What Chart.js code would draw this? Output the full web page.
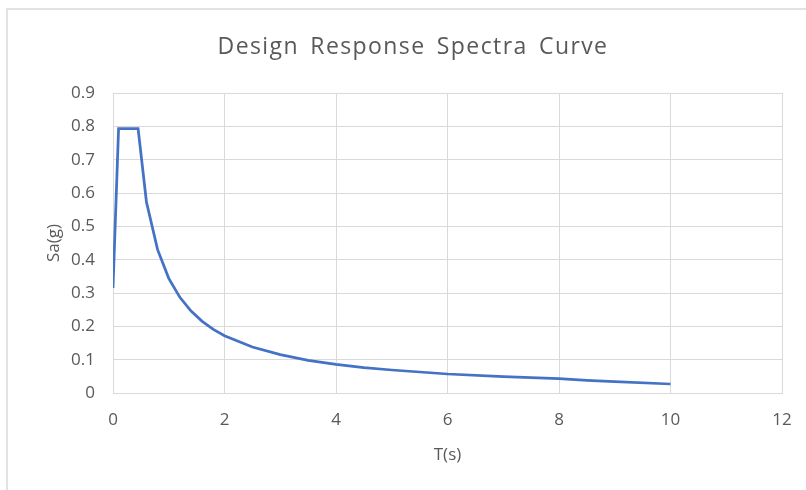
<!DOCTYPE html>
<html>
<head>
<meta charset="utf-8">
<script src="https://cdn.jsdelivr.net/npm/chart.js@4.4.0/dist/chart.umd.min.js"></script>
<style>
  html, body { margin: 0; padding: 0; background: #fff; }
  #wrap { width: 806px; height: 490px; position: relative; }
</style>
</head>
<body>
<div id="wrap"><canvas id="spectraChart" width="806" height="490"></canvas></div>
<script>
// Periodo T (s) y aceleración espectral Sa (g)
const periods = [0, 0.1, 0.45, 0.6, 0.8, 1.0, 1.2, 1.4, 1.6, 1.8, 2.0, 2.5, 3.0, 3.5, 4.0, 4.5, 5.0, 6.0, 7.0, 8.0, 8.5, 9.0, 10.0];
const saValues = [0.315, 0.793, 0.793, 0.573, 0.43, 0.344, 0.287, 0.246, 0.215, 0.191, 0.172, 0.138, 0.115, 0.098, 0.086, 0.076, 0.069, 0.057, 0.049, 0.043, 0.038, 0.034, 0.027];
const xTicks = [0, 2, 4, 6, 8, 10, 12];
const yTicks = [0, 0.1, 0.2, 0.3, 0.4, 0.5, 0.6, 0.7, 0.8, 0.9];
const chartTitle = 'Design Response Spectra Curve';

const points = periods.map((t, i) => ({ x: t, y: saValues[i] }));

const textColor = '#595959';
const gridColor = '#d9d9d9';
const fontFamily = '"Open Sans", "Noto Sans", sans-serif';

// Marco gris del área del gráfico (solo izquierda y arriba, como en la captura)
const framePlugin = {
    id: 'frame',
    beforeDraw(chart) {
        const ctx = chart.ctx;
        ctx.save();
        ctx.strokeStyle = '#e2e2e2';
        ctx.lineWidth = 2;
        ctx.beginPath();
        ctx.moveTo(7, 490);
        ctx.lineTo(7, 9);
        ctx.lineTo(806, 9);
        ctx.stroke();
        ctx.restore();
    }
};

// Título con espaciado de letras (estilo Excel)
const spacedTitlePlugin = {
    id: 'spacedTitle',
    afterDraw(chart) {
        const ctx = chart.ctx;
        ctx.save();
        ctx.font = '23px ' + fontFamily;
        ctx.fillStyle = textColor;
        ctx.textAlign = 'center';
        ctx.textBaseline = 'alphabetic';
        if ('letterSpacing' in ctx) ctx.letterSpacing = '1.4px';
        if ('wordSpacing' in ctx) ctx.wordSpacing = '4px';
        ctx.fillText(chartTitle, 413, 54);
        ctx.restore();
    }
};

const ctx = document.getElementById('spectraChart').getContext('2d');

new Chart(ctx, {
    type: 'line',
    data: {
        datasets: [{
            label: 'Sa(g)',
            data: points,
            borderColor: '#4472c4',
            borderWidth: 2.75,
            pointRadius: 0,
            tension: 0,
            fill: false
        }]
    },
    options: {
        responsive: false,
        animation: false,
        layout: { padding: { left: 40, right: 24, top: 93, bottom: 21 } },
        plugins: {
            legend: { display: false },
            tooltip: { enabled: false },
            title: { display: false }
        },
        scales: {
            x: {
                type: 'linear',
                min: 0,
                max: 12,
                afterBuildTicks: axis => { axis.ticks = xTicks.map(v => ({ value: v })); },
                afterFit: axis => {
                    axis.height = 76;
                    axis.paddingLeft = 0;
                    axis.paddingRight = 0;
                },
                grid: { color: gridColor, lineWidth: 1, drawTicks: false },
                border: { color: gridColor, width: 1 },
                ticks: {
                    color: textColor,
                    font: { family: fontFamily, size: 17 },
                    padding: 17,
                    maxRotation: 0
                },
                title: {
                    display: true,
                    text: 'T(s)',
                    color: textColor,
                    font: { family: fontFamily, size: 17 }
                }
            },
            y: {
                min: 0,
                max: 0.9,
                afterBuildTicks: axis => { axis.ticks = yTicks.map(v => ({ value: v })); },
                afterFit: axis => {
                    axis.width = 73;
                    axis.paddingTop = 0;
                    axis.paddingBottom = 0;
                },
                grid: { color: gridColor, lineWidth: 1, drawTicks: false },
                border: { color: gridColor, width: 1 },
                ticks: {
                    color: textColor,
                    font: { family: fontFamily, size: 17 },
                    padding: 18,
                    callback: v => String(Math.round(v * 10) / 10)
                },
                title: {
                    display: true,
                    text: 'Sa(g)',
                    color: textColor,
                    font: { family: fontFamily, size: 17 }
                }
            }
        }
    },
    plugins: [framePlugin, spacedTitlePlugin]
});
</script>
</body>
</html>
